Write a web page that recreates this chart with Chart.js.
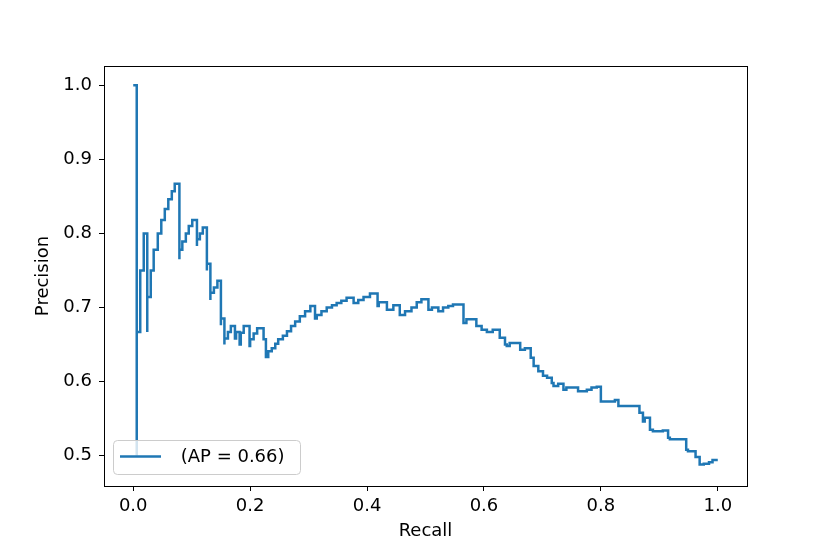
<!DOCTYPE html>
<html>
<head>
<meta charset="utf-8">
<script src="https://cdn.jsdelivr.net/npm/chart.js@4/dist/chart.umd.min.js"></script>
<style>
  body { margin: 0; background: #fff; }
</style>
</head>
<body>
<canvas id="pr_chart" width="830" height="554"></canvas>
<script>
// recall / precision (start of each horizontal step)
var recall = [
    0.000, 0.006, 0.006, 0.012, 0.018, 0.024, 0.024, 0.030, 0.035, 0.042,
    0.048, 0.054, 0.060, 0.066, 0.071, 0.079, 0.079, 0.084, 0.090, 0.095,
    0.101, 0.109, 0.109, 0.114, 0.119, 0.126, 0.126, 0.132, 0.132, 0.138,
    0.144, 0.150, 0.150, 0.156, 0.156, 0.162, 0.167, 0.174, 0.176, 0.182,
    0.184, 0.189, 0.199, 0.200, 0.206, 0.212, 0.223, 0.227, 0.231, 0.237,
    0.243, 0.248, 0.256, 0.263, 0.270, 0.277, 0.285, 0.294, 0.303, 0.311,
    0.314, 0.322, 0.331, 0.340, 0.348, 0.356, 0.365, 0.377, 0.385, 0.394,
    0.405, 0.418, 0.420, 0.434, 0.445, 0.456, 0.465, 0.476, 0.485, 0.493,
    0.505, 0.511, 0.522, 0.530, 0.539, 0.547, 0.565, 0.570, 0.587, 0.596,
    0.605, 0.615, 0.627, 0.636, 0.639, 0.644, 0.662, 0.670, 0.680, 0.685,
    0.693, 0.701, 0.708, 0.716, 0.719, 0.727, 0.736, 0.741, 0.747, 0.761,
    0.776, 0.784, 0.793, 0.800, 0.824, 0.830, 0.866, 0.872, 0.875, 0.884,
    0.889, 0.906, 0.915, 0.918, 0.946, 0.949, 0.962, 0.969, 0.976, 0.985,
    0.991, 1.000
];
var precision = [
    1.000, 0.500, 0.667, 0.750, 0.800, 0.667, 0.714, 0.750, 0.778, 0.800,
    0.818, 0.833, 0.846, 0.857, 0.867, 0.765, 0.778, 0.789, 0.800, 0.810,
    0.818, 0.783, 0.792, 0.800, 0.808, 0.750, 0.759, 0.710, 0.720, 0.727,
    0.736, 0.676, 0.685, 0.650, 0.658, 0.667, 0.675, 0.658, 0.667, 0.650,
    0.666, 0.675, 0.648, 0.657, 0.665, 0.672, 0.657, 0.633, 0.641, 0.645,
    0.651, 0.657, 0.662, 0.668, 0.675, 0.681, 0.688, 0.695, 0.702, 0.685,
    0.690, 0.695, 0.700, 0.703, 0.706, 0.709, 0.713, 0.706, 0.710, 0.714,
    0.719, 0.702, 0.707, 0.697, 0.703, 0.690, 0.695, 0.700, 0.707, 0.711,
    0.697, 0.700, 0.695, 0.700, 0.702, 0.704, 0.679, 0.684, 0.675, 0.670,
    0.667, 0.670, 0.659, 0.650, 0.648, 0.652, 0.643, 0.645, 0.632, 0.621,
    0.614, 0.608, 0.605, 0.598, 0.594, 0.597, 0.589, 0.592, 0.592, 0.587,
    0.589, 0.592, 0.593, 0.573, 0.575, 0.567, 0.558, 0.546, 0.551, 0.535,
    0.533, 0.534, 0.524, 0.522, 0.508, 0.506, 0.498, 0.488, 0.489, 0.491,
    0.494, 0.494
];
var x_ticks = [0.0, 0.2, 0.4, 0.6, 0.8, 1.0];
var y_ticks = [0.5, 0.6, 0.7, 0.8, 0.9, 1.0];
var legend_label = " (AP = 0.66)";

var font_family = "'DejaVu Sans', sans-serif";
var line_color = "#1f77b4";

var frame_plugin = {
    id: "frame_plugin",
    afterDraw: (chart) => {
        var ctx = chart.ctx;
        var a = chart.chartArea;
        ctx.save();
        ctx.strokeStyle = "#000";
        ctx.lineWidth = 1;
        ctx.strokeRect(Math.round(a.left) + 0.5, Math.round(a.top) + 0.5,
            Math.round(a.right - a.left), Math.round(a.bottom - a.top));

        // legend box in lower left, like matplotlib
        var bx = a.left + 9, by = a.bottom - 46, bw = 187, bh = 34;
        ctx.fillStyle = "rgba(255,255,255,0.8)";
        ctx.strokeStyle = "#cccccc";
        ctx.beginPath();
        ctx.roundRect(bx + 0.5, by + 0.5, bw, bh, 4);
        ctx.fill();
        ctx.stroke();
        ctx.strokeStyle = line_color;
        ctx.lineWidth = 2.5;
        ctx.beginPath();
        ctx.moveTo(bx + 7, by + 16.5);
        ctx.lineTo(bx + 48, by + 16.5);
        ctx.stroke();
        ctx.fillStyle = "#000";
        ctx.font = "18px " + font_family;
        ctx.textBaseline = "middle";
        ctx.fillText(legend_label, bx + 62, by + 17);
        ctx.restore();
    }
};

var $id = (id) => document.getElementById(id);

var create_chart = () => {
    var canva = $id("pr_chart");
    var points = recall.map((r, i) => ({ x: r, y: precision[i] }));
    var config = {
        type: "line",
        data: {
            datasets: [{
                label: legend_label,
                data: points,
                borderColor: line_color,
                borderWidth: 2.5,
                pointRadius: 0,
                stepped: "before",
                fill: false
            }]
        },
        options: {
            responsive: false,
            animation: false,
            layout: { padding: { left: 0, top: 66, right: 83, bottom: 0 } },
            plugins: {
                legend: { display: false },
                tooltip: { enabled: false }
            },
            scales: {
                x: {
                    type: "linear",
                    min: -0.05,
                    max: 1.05,
                    afterBuildTicks: (scale) => { scale.ticks = x_ticks.map(v => ({ value: v })); },
                    afterFit: (scale) => { scale.height = 68; },
                    border: { display: false },
                    grid: { drawOnChartArea: false, drawTicks: true, tickLength: 5, tickColor: "#000" },
                    ticks: {
                        color: "#000",
                        padding: 5,
                        maxRotation: 0,
                        font: { family: font_family, size: 18 },
                        callback: (v) => v.toFixed(1)
                    },
                    title: {
                        display: true,
                        text: "Recall",
                        color: "#000",
                        padding: { top: 0, bottom: 12 },
                        font: { family: font_family, size: 18 }
                    }
                },
                y: {
                    type: "linear",
                    min: 0.459,
                    max: 1.026,
                    afterBuildTicks: (scale) => { scale.ticks = y_ticks.map(v => ({ value: v })); },
                    afterFit: (scale) => { scale.width = 104; },
                    border: { display: false },
                    grid: { drawOnChartArea: false, drawTicks: true, tickLength: 5, tickColor: "#000" },
                    ticks: {
                        color: "#000",
                        padding: 7,
                        font: { family: font_family, size: 18 },
                        callback: (v) => v.toFixed(1)
                    },
                    title: {
                        display: true,
                        text: "Precision",
                        color: "#000",
                        padding: { top: 33, bottom: 0 },
                        font: { family: font_family, size: 18 }
                    }
                }
            }
        },
        plugins: [frame_plugin]
    };
    return new Chart(canva, config);
};

create_chart();
</script>
</body>
</html>
